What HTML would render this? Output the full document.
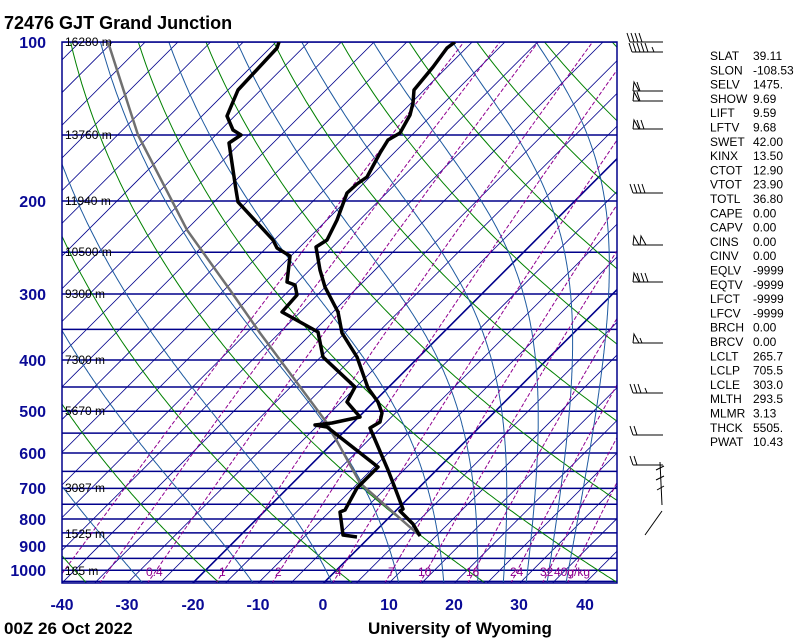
<!DOCTYPE html>
<html><head><meta charset="utf-8"><style>
body{margin:0;background:#fff;width:800px;height:640px;overflow:hidden}
svg{display:block}
text{font-family:"Liberation Sans",sans-serif}
</style></head><body>
<svg id="s" width="800" height="640" xmlns="http://www.w3.org/2000/svg">
<defs><clipPath id="c"><rect x="62" y="42" width="555" height="541"/></clipPath></defs>
<g id="grid" clip-path="url(#c)"></g>
<rect x="62" y="42" width="555" height="541" fill="none" stroke="#00008b" stroke-width="1.5"/>
<g id="prof" clip-path="url(#c)">
<polyline fill="none" stroke="#707070" stroke-width="2.5" points="108,42 138,135 187,230 230,290 260,333 327,423 360,483 420,536"/>
<polyline fill="none" stroke="#000" stroke-width="3.5" stroke-linejoin="round" points="455,42 447,48 433,67 414,90 413,103 410,115 400,133 388,140 380,153 367,177 357,184 347,193 337,220 327,240 316,247 320,270 325,287 338,312 342,333 357,357 368,388 378,402 382,413 380,422 370,428 388,470 395,488 403,509 400,511 413,524 420,536"/>
<polyline fill="none" stroke="#000" stroke-width="3.5" stroke-linejoin="round" points="279,42 277,48 238,90 227,116 233,130 241,135 229,143 236,190 238,202 273,240 277,248 290,256 287,282 295,285 297,295 282,312 318,332 323,357 355,387 347,402 360,417 332,423 315,425 327,427 378,467 357,488 345,510 340,512 343,535 357,537"/>
</g>
<g fill="#000" font-size="12">
<text x="65" y="46">16280 m</text><text x="65" y="139">13760 m</text><text x="65" y="205">11940 m</text>
<text x="65" y="256">10500 m</text><text x="65" y="298">9300 m</text><text x="65" y="364">7300 m</text>
<text x="65" y="415">5670 m</text><text x="65" y="492">3087 m</text><text x="65" y="538">1525 m</text>
<text x="65" y="575">165 m</text>
</g>
<g id="mrl" fill="#900090" font-size="12"></g>
<g fill="#0a0a96" font-size="16" font-weight="bold" text-anchor="end">
<text x="46" y="48">100</text><text x="46" y="207">200</text><text x="46" y="300">300</text>
<text x="46" y="366">400</text><text x="46" y="417">500</text><text x="46" y="459">600</text>
<text x="46" y="494">700</text><text x="46" y="525">800</text><text x="46" y="552">900</text>
<text x="46" y="576">1000</text>
</g>
<g fill="#0a0a96" font-size="16" font-weight="bold" text-anchor="middle">
<text x="62" y="610">-40</text><text x="127" y="610">-30</text><text x="193" y="610">-20</text>
<text x="258" y="610">-10</text><text x="323" y="610">0</text><text x="389" y="610">10</text>
<text x="454" y="610">20</text><text x="519" y="610">30</text><text x="585" y="610">40</text>
</g>
<text x="4" y="29" font-size="18" font-weight="bold">72476 GJT Grand Junction</text>
<text x="4" y="634" font-size="17" font-weight="bold">00Z 26 Oct 2022</text>
<text x="368" y="634" font-size="17" font-weight="bold">University of Wyoming</text>
<g id="stats" font-size="12" fill="#000"></g>
<g id="barbs" stroke="#000" stroke-width="1" fill="none"></g>
</svg>
<script>
var NS="http://www.w3.org/2000/svg";
function el(p,t,a,txt){var e=document.createElementNS(NS,t);for(var k in a)e.setAttribute(k,a[k]);if(txt!=null)e.textContent=txt;p.appendChild(e);return e;}
var K=229.4;
function Y(p){return 42+K*Math.log(p/100);}
function X(T,p){return 62+(T+40)*6.54+(583-Y(p));}
var g=document.getElementById('grid');
function line(pts,col,w,dash){var d='';pts.forEach(function(q,i){d+=(i?'L':'M')+q[0].toFixed(1)+','+q[1].toFixed(1);});var a={d:d,fill:'none',stroke:col,'stroke-width':w};if(dash)a['stroke-dasharray']=dash;el(g,'path',a);}
for(var T=-160;T<=50;T+=5){line([[X(T,1060),Y(1060)],[X(T,90),Y(90)]],'#00008b',(T==0||T==-20)?1.6:0.8);}
for(var p=100;p<=1050;p+=50){line([[62,Y(p)],[617,Y(p)]],'#00008b',1.5);}
var ps=[];for(var p=1060;p>=95;p-=5)ps.push(p);
for(var th=193.15;th<=473.15;th+=20){line(ps.map(function(p){var t=th*Math.pow(p/1000,0.286)-273.15;return[X(t,p),Y(p)];}),'#008000',1);}
function es(tc){return 6.112*Math.exp(17.67*tc/(tc+243.5));}
function rs(tc,p){var e=es(tc);return 0.622*e/(p-e);}
function lapse(T,p){var tc=T-273.15,r=rs(tc,p),Lv=2.501e6,Rd=287,cp=1004;return (Rd*T+Lv*r)/(cp+Lv*Lv*r*0.622/(Rd*T*T));}
[-27.8,-10.9,1.2,11.4,18.3,23.5,27.4,30.9,34.1,37].forEach(function(t0){
 var T=t0+273.15,p=1055,pts=[[X(t0,p),Y(p)]];
 while(p>100){var dp=-2.5;var dl=Math.log((p+dp)/p);var k1=lapse(T,p);var k2=lapse(T+k1*dl,p+dp);T+=0.5*(k1+k2)*dl;p+=dp;pts.push([X(T-273.15,p),Y(p)]);}
 line(pts,'#1e5aa0',1);});
var mg=document.getElementById('mrl');
[0.1,0.2,0.4,1,2,4,7,10,16,24,32,40].forEach(function(w){
 var pts=[];ps.forEach(function(p){var W=w/1000,e=W*p/(0.622+W),l=Math.log(e/6.112),tc=243.5*l/(17.67-l);pts.push([X(tc,p),Y(p)]);});
 line(pts,'#900090',1,'4,2');});
[['0.4',146],['1',219],['2',275],['4',335],['7',388],['10',418],['16',466],['24',510],['32',540],['40g/kg',554]].forEach(function(a){el(mg,'text',{x:a[1],y:576},a[0]);});
var st=[['SLAT','39.11'],['SLON','-108.53'],['SELV','1475.'],['SHOW','9.69'],['LIFT','9.59'],['LFTV','9.68'],['SWET','42.00'],['KINX','13.50'],['CTOT','12.90'],['VTOT','23.90'],['TOTL','36.80'],['CAPE','0.00'],['CAPV','0.00'],['CINS','0.00'],['CINV','0.00'],['EQLV','-9999'],['EQTV','-9999'],['LFCT','-9999'],['LFCV','-9999'],['BRCH','0.00'],['BRCV','0.00'],['LCLT','265.7'],['LCLP','705.5'],['LCLE','303.0'],['MLTH','293.5'],['MLMR','3.13'],['THCK','5505.'],['PWAT','10.43']];
var sg=document.getElementById('stats');
st.forEach(function(a,i){var y=60+i*14.3;el(sg,'text',{x:710,y:y},a[0]);el(sg,'text',{x:753,y:y},a[1]);});
var bg=document.getElementById('barbs');
function barb(y,x1,x2,fl,full,half){el(bg,'line',{x1:x1,y1:y,x2:x2,y2:y});var x=x1;
 for(var i=0;i<fl;i++){el(bg,'path',{d:'M'+x+','+y+'L'+(x+1)+','+(y-9)+'L'+(x+6)+','+y});x+=7;}
 for(var i=0;i<full;i++){el(bg,'line',{x1:x,y1:y,x2:x-3,y2:y-9});x+=4;}
 for(var i=0;i<half;i++){el(bg,'line',{x1:x+2,y1:y,x2:x,y2:y-5});}}
barb(42,630,663,0,4,0);barb(52,632,663,0,5,1);barb(91,633,663,1,1,0);barb(101,633,663,1,1,0);
barb(129,633,663,1,2,0);barb(193,633,663,0,4,0);barb(245,633,663,2,0,0);barb(282,633,663,1,3,0);
barb(343,633,663,1,0,1);barb(393,633,663,0,3,1);barb(435,633,663,0,2,0);barb(465,633,663,0,2,0);
el(bg,'line',{x1:660,y1:462,x2:662,y2:505});
el(bg,'line',{x1:656,y1:470,x2:664,y2:466});el(bg,'line',{x1:656,y1:480,x2:664,y2:476});el(bg,'line',{x1:657,y1:490,x2:664,y2:486});
el(bg,'line',{x1:645,y1:535,x2:662,y2:511});
</script>
</body></html>
